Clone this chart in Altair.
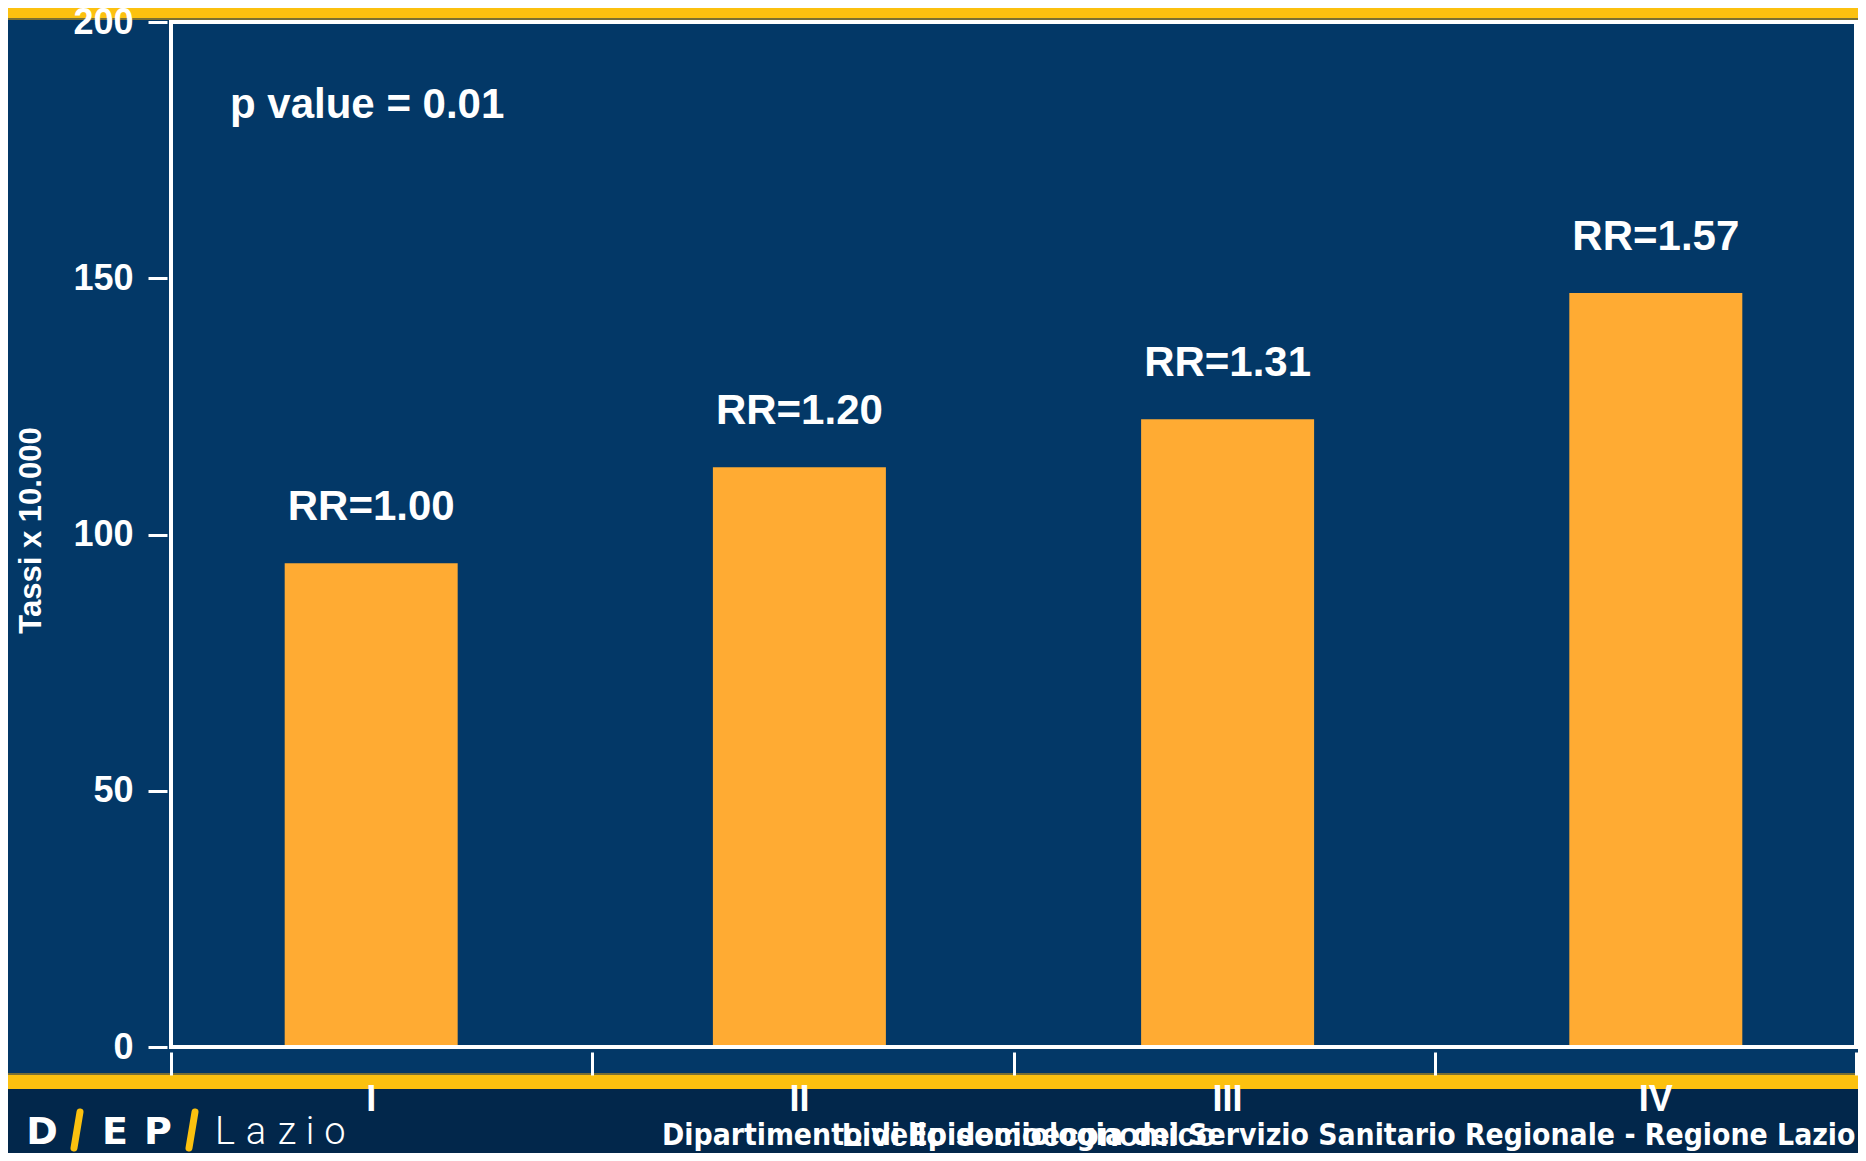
import altair as alt
import pandas as pd

# ---------------- data ----------------
categories = ["I", "II", "III", "IV"]
rates = [94.4, 113.1, 122.5, 147.1]
rr_labels = ["RR=1.00", "RR=1.20", "RR=1.31", "RR=1.57"]
y_tick_values = [0, 50, 100, 150, 200]
p_value_label = "p value = 0.01"
x_title = "Livello socioeconomico"
y_title = "Tassi x 10.000"
footer_label = "Dipartimento di Epidemiologia del Servizio Sanitario Regionale - Regione Lazio"
logo_bold = ["D", "E", "P"]
logo_light = ["L", "a", "z", "i", "o"]

# ---------------- style ----------------
NAVY = "#033867"
FOOTER = "#02274B"
YELLOW = "#FCC10F"
OLIVE = "#7A7034"
ORANGE = "#FFAB33"
WHITE = "#FFFFFF"
FONT = "Liberation Sans"

W, H = 1685, 1025
PAD_L, PAD_T, PAD_R = 163, 14, 2
TOTAL_H = 1145
PAD_B = TOTAL_H - PAD_T - H


def px(page_x):
    return page_x - 8 - PAD_L


def py(page_y):
    return page_y - 8 - PAD_T


df = pd.DataFrame({"cat": categories, "rate": rates, "rr": rr_labels})
one = pd.DataFrame({"k": [0]})


def deco_rect(y0, y1, color):
    return alt.Chart(one).mark_rect(color=color, strokeWidth=0).encode(
        x=alt.value(-PAD_L), x2=alt.value(W + PAD_R),
        y=alt.value(y0), y2=alt.value(y1))


def deco_text(txt, x, y, size, font=FONT, weight="bold", align="left", color=WHITE):
    return alt.Chart(one).mark_text(
        text=txt, font=font, fontSize=size, fontWeight=weight, align=align,
        baseline="alphabetic", color=color
    ).encode(x=alt.value(x), y=alt.value(y))


def deco_line(x0, y0, x1, y1, color, width):
    return alt.Chart(one).mark_rule(color=color, strokeWidth=width, strokeCap="round").encode(
        x=alt.value(x0), y=alt.value(y0), x2=alt.value(x1), y2=alt.value(y1))


# bars: padded band scale (bar positions), axis gives labels + title
x_enc = alt.X(
    "cat:N", sort=categories,
    scale=alt.Scale(paddingInner=0.596, paddingOuter=0.2655),
    axis=alt.Axis(
        orient="bottom", title=x_title, labelAngle=0, labelFont=FONT,
        labelFontSize=36, labelFontWeight="bold", labelColor=WHITE,
        labelPadding=7, tickOpacity=0, tickSize=23,
        offset=5, domain=False, grid=False,
        titleFont=FONT, titleFontSize=33, titleFontWeight="bold",
        titleColor=WHITE, titleBaseline="alphabetic",
        titleX=W / 2 + 15, titleY=py(1145) - H - 5,
        zindex=1),
)
y_enc = alt.Y(
    "rate:Q",
    scale=alt.Scale(domain=[0, 200], nice=False, zero=True),
    axis=alt.Axis(
        title=y_title, values=y_tick_values, labelFont=FONT, labelFontSize=36,
        labelFontWeight="bold", labelColor=WHITE, labelPadding=15,
        tickColor=WHITE, tickWidth=3, tickSize=19, offset=4,
        domain=False, grid=False,
        titleFont=FONT, titleFontSize=31, titleFontWeight="bold",
        titleColor=WHITE, titleBaseline="alphabetic",
        titleX=px(40) + 4, titleY=py(530), zindex=1),
)

bars = alt.Chart(df).mark_bar(color=ORANGE).encode(x=x_enc, y=y_enc)
rr_text = alt.Chart(df).mark_text(
    font=FONT, fontSize=42, fontWeight="bold", color=WHITE,
    baseline="alphabetic", align="center", dy=-43
).encode(x=alt.X("cat:N", sort=categories), y="rate:Q", text="rr:N")
data_layer = alt.layer(bars, rr_text)

# category boundary ticks: unpadded band scale, ticks at band extents
tick_layer = alt.Chart(df).mark_point(opacity=0).encode(
    x=alt.X("cat:N", sort=categories,
            scale=alt.Scale(paddingInner=0, paddingOuter=0),
            axis=alt.Axis(orient="bottom", labels=False, title="",
                          tickBand="extent", tickColor=WHITE, tickWidth=3,
                          tickSize=23, offset=5, domain=False, grid=False,
                          zindex=1)))

frame = alt.Chart(one).mark_rect(fillOpacity=0, stroke=WHITE, strokeWidth=4).encode(
    x=alt.value(0), x2=alt.value(W), y=alt.value(0), y2=alt.value(H))

layers = [
    deco_rect(-PAD_T, py(18), YELLOW),
    deco_rect(py(18), py(20), OLIVE),
    deco_rect(py(1073), py(1075), OLIVE),
    deco_rect(py(1075), py(1089), YELLOW),
    deco_rect(py(1089), H + PAD_B, FOOTER),
    data_layer,
    tick_layer,
    frame,
    deco_text(p_value_label, px(230), py(118), 42),
    deco_text(footer_label, px(662), py(1145), 29.8, font="DejaVu Sans Condensed"),
]

# logo "D/EP/Lazio"
for ch, cx in zip(logo_bold, [42, 115, 158]):
    layers.append(deco_text(ch, px(cx), py(1144), 38, font="DejaVu Sans", align="center"))
for ch, cx in zip(logo_light, [225, 256, 287, 310, 335]):
    layers.append(deco_text(ch, px(cx), py(1144), 38, font="Roboto", weight=300, align="center"))
layers.append(deco_line(px(80), py(1112), px(74), py(1148), YELLOW, 7))
layers.append(deco_line(px(195), py(1112), px(189), py(1148), YELLOW, 7))

chart = alt.layer(*layers).resolve_scale(x="independent").properties(
    width=W, height=H, background=NAVY,
    padding={"left": PAD_L, "top": PAD_T, "right": PAD_R, "bottom": PAD_B},
    autosize=alt.AutoSizeParams(type="none"),
).configure_view(strokeOpacity=0)

chart.save("out.html", embed_options={"renderer": "svg", "actions": False})
